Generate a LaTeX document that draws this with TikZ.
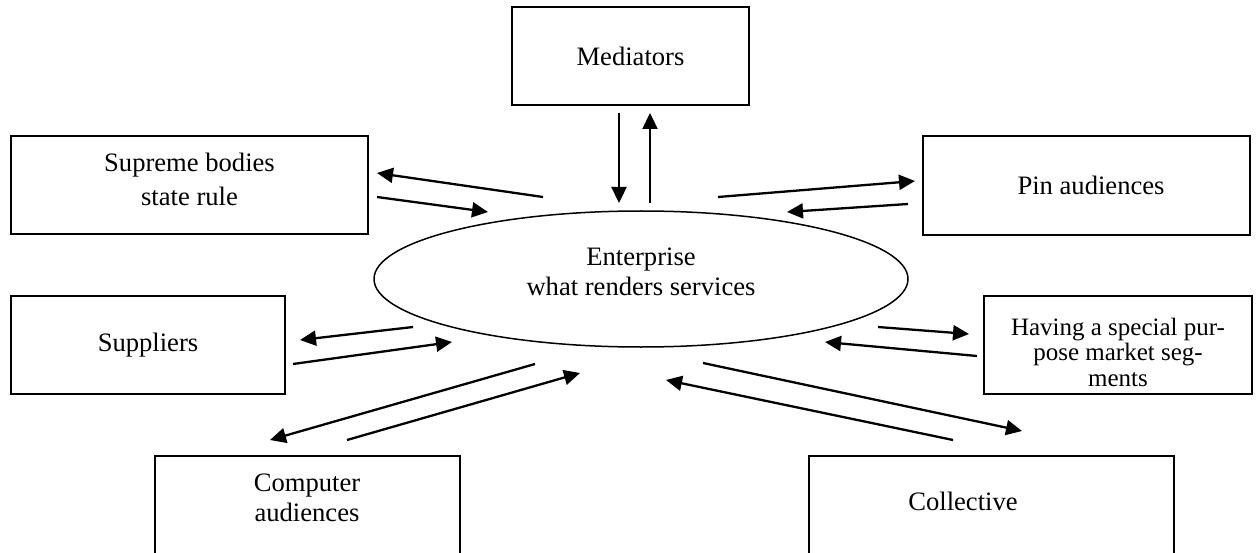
\documentclass[tikz,border=0pt]{standalone}
\usepackage{fontspec}
\setmainfont{Liberation Serif}
\usetikzlibrary{arrows.meta,shapes.geometric}
\begin{document}
\begin{tikzpicture}[x=1pt,y=-1pt,
  box/.style={draw,line width=1.6pt,inner sep=0pt},
  lbl/.style={font=\fontsize{26.6}{31}\selectfont,align=center,inner sep=0pt},
  arr/.style={line width=2.3pt,-{Triangle[length=16pt,width=15pt]}},
]
\useasboundingbox (0,0) rectangle (1257,553);
% boxes
\node[box,lbl,minimum width=237pt,minimum height=98pt] (med) at (630.5,56) {Mediators};
\node[box,minimum width=357pt,minimum height=98pt] (sup) at (189.5,185) {};
\node[lbl,font=\fontsize{26.6}{34}\selectfont] (supt) at (189.5,179) {Supreme bodies\\state rule};
\node[box,lbl,minimum width=327pt,minimum height=99pt] (pin) at (1086.5,185.5) {\hspace{9pt}Pin audiences};
\node[box,lbl,minimum width=274pt,minimum height=98pt] (supl) at (148,345) {Suppliers};
\node[box,minimum width=268pt,minimum height=98pt] (hav) at (1118,345) {};
\node[lbl,font=\fontsize{25}{25.5}\selectfont] (havt) at (1118,352) {Having a special pur-\\pose market seg-\\ments};
\node[box,minimum width=305pt,minimum height=160pt,anchor=north] (comp) at (307.5,455) {};
\node[lbl,font=\fontsize{26.6}{30}\selectfont] (compt) at (307,498) {Computer\\audiences};
\node[box,minimum width=365pt,minimum height=160pt,anchor=north] (coll) at (991.5,455) {};
\node[lbl] (collt) at (963,501) {Collective};
% ellipse
\node[draw,ellipse,line width=1.5pt,minimum width=534pt,minimum height=136pt,inner sep=0pt] (ent) at (641,279) {};
\node[lbl,font=\fontsize{26.6}{30}\selectfont] (entt) at (641,272) {Enterprise\\what renders services};
% arrow end points
\coordinate (m1a) at (619,113); \coordinate (m1b) at (619,203);
\coordinate (m2a) at (650,203); \coordinate (m2b) at (650,113);
\coordinate (s1a) at (543,197); \coordinate (s1b) at (377,173);
\coordinate (s2a) at (377,197); \coordinate (s2b) at (488,212);
\coordinate (p1a) at (718,197); \coordinate (p1b) at (915,181);
\coordinate (p2a) at (908,204); \coordinate (p2b) at (787,212);
\coordinate (u1a) at (413,327); \coordinate (u1b) at (300,340);
\coordinate (u2a) at (293,364); \coordinate (u2b) at (452,342);
\coordinate (h1a) at (878,327); \coordinate (h1b) at (969,334);
\coordinate (h2a) at (977,356); \coordinate (h2b) at (825,342);
\coordinate (c1a) at (535,364); \coordinate (c1b) at (270,440);
\coordinate (c2a) at (347,440); \coordinate (c2b) at (580,373);
\coordinate (k1a) at (703,363); \coordinate (k1b) at (1022,431);
\coordinate (k2a) at (953,440); \coordinate (k2b) at (666,380);
% arrows
\draw[arr] (m1a) -- (m1b);
\draw[arr] (m2a) -- (m2b);
\draw[arr] (s1a) -- (s1b);
\draw[arr] (s2a) -- (s2b);
\draw[arr] (p1a) -- (p1b);
\draw[arr] (p2a) -- (p2b);
\draw[arr] (u1a) -- (u1b);
\draw[arr] (u2a) -- (u2b);
\draw[arr] (h1a) -- (h1b);
\draw[arr] (h2a) -- (h2b);
\draw[arr] (c1a) -- (c1b);
\draw[arr] (c2a) -- (c2b);
\draw[arr] (k1a) -- (k1b);
\draw[arr] (k2a) -- (k2b);
\end{tikzpicture}
\end{document}
